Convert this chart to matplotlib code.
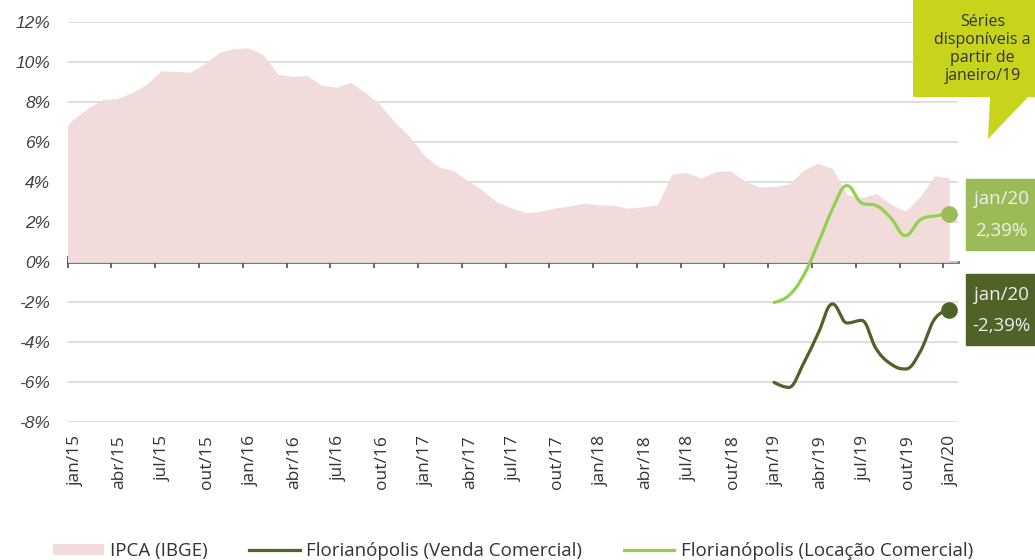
import numpy as np
import matplotlib
matplotlib.use('Agg')
import matplotlib.pyplot as plt
from matplotlib.patches import Rectangle, Polygon, Patch
from matplotlib.lines import Line2D
from matplotlib.transforms import blended_transform_factory

plt.rcParams['font.family'] = ['Open Sans', 'DejaVu Sans']

# IPCA acumulado em 12 meses, de dez/14 a jan/20
ipca = [6.41,
        7.14, 7.70, 8.13, 8.17, 8.47, 8.89, 9.56, 9.53, 9.49, 9.93, 10.48, 10.67,
        10.71, 10.36, 9.39, 9.28, 9.32, 8.84, 8.74, 8.97, 8.48, 7.87, 6.99, 6.29,
        5.35, 4.76, 4.57, 4.08, 3.60, 3.00, 2.71, 2.46, 2.54, 2.70, 2.80, 2.95,
        2.86, 2.84, 2.68, 2.76, 2.86, 4.39, 4.48, 4.19, 4.53, 4.56, 4.05, 3.75,
        3.78, 3.89, 4.58, 4.94, 4.66, 3.37, 3.22, 3.43, 2.89, 2.54, 3.27, 4.31,
        4.19]
ipca_first_month = -1  # dez/14

# Florianópolis, de jan/19 a jan/20
venda = [-6.02, -6.27, -5.10, -3.60, -2.10, -3.05, -2.92, -4.35, -5.10, -5.35, -4.50, -2.85, -2.39]
locacao = [-2.02, -1.68, -0.70, 0.90, 2.65, 3.82, 2.95, 2.82, 2.20, 1.32, 2.10, 2.30, 2.39]
series_first_month = 48  # jan/19

tick_months = list(range(0, 61, 3))
tick_labels = ['jan/15', 'abr/15', 'jul/15', 'out/15',
               'jan/16', 'abr/16', 'jul/16', 'out/16',
               'jan/17', 'abr/17', 'jul/17', 'out/17',
               'jan/18', 'abr/18', 'jul/18', 'out/18',
               'jan/19', 'abr/19', 'jul/19', 'out/19', 'jan/20']
y_ticks = [-8, -6, -4, -2, 0, 2, 4, 6, 8, 10, 12]

legend_labels = ['IPCA (IBGE)', 'Florianópolis (Venda Comercial)',
                 'Florianópolis (Locação Comercial)']

PINK = '#f2dcdb'
DARK = '#4f6228'
LIGHT_LINE = '#92d050'
LIGHT_BOX = '#9bbb59'
CALLOUT = '#c8d41c'
TEXT = '#333333'

X_SHIFT = 0.4  # pontos ficam um pouco à direita do tick do mês


def spline(xs, ys, smoothing=1.5, steps=30):
    """Curva suave que passa pelos pontos, sem criar extremos falsos."""
    xs = np.asarray(xs, float)
    ys = np.asarray(ys, float)
    n = len(xs)
    left = [(xs[i], ys[i]) for i in range(n)]
    right = [(xs[i], ys[i]) for i in range(n)]
    denom = smoothing + 1
    for i in range(1, n - 1):
        x, y = xs[i], ys[i]
        lx, ly = xs[i - 1], ys[i - 1]
        nx, ny = xs[i + 1], ys[i + 1]
        lcx = (smoothing * x + lx) / denom
        lcy = (smoothing * y + ly) / denom
        rcx = (smoothing * x + nx) / denom
        rcy = (smoothing * y + ny) / denom
        if rcx != lcx:
            corr = (rcy - lcy) * (rcx - x) / (rcx - lcx) + y - rcy
            lcy += corr
            rcy += corr
        if lcy > ly and lcy > y:
            lcy = max(ly, y)
            rcy = 2 * y - lcy
        elif lcy < ly and lcy < y:
            lcy = min(ly, y)
            rcy = 2 * y - lcy
        if rcy > ny and rcy > y:
            rcy = max(ny, y)
            lcy = 2 * y - rcy
        elif rcy < ny and rcy < y:
            rcy = min(ny, y)
            lcy = 2 * y - rcy
        left[i] = (lcx, lcy)
        right[i] = (rcx, rcy)

    t = np.linspace(0, 1, steps)[:, None]
    out = []
    for i in range(n - 1):
        p0 = np.array([xs[i], ys[i]])
        p1 = np.array(right[i])
        p2 = np.array(left[i + 1])
        p3 = np.array([xs[i + 1], ys[i + 1]])
        seg = ((1 - t) ** 3) * p0 + 3 * ((1 - t) ** 2) * t * p1 \
            + 3 * (1 - t) * t ** 2 * p2 + t ** 3 * p3
        out.append(seg if i == 0 else seg[1:])
    pts = np.vstack(out)
    return pts[:, 0], pts[:, 1]


W, H = 1035, 560
fig = plt.figure(figsize=(W / 100, H / 100), dpi=100)
ax = fig.add_axes([67.7 / W, 1 - 422 / H, (958 - 67.7) / W, 400 / H])

x_ipca = np.arange(len(ipca)) + ipca_first_month + X_SHIFT
ax.fill_between(x_ipca, ipca, 0, color=PINK, lw=0, zorder=1)

x_series = np.arange(len(venda)) + series_first_month + X_SHIFT
sx, sy = spline(x_series, locacao)
ax.plot(sx, sy, color=LIGHT_LINE, lw=2.3, zorder=3, solid_capstyle='round')
sx, sy = spline(x_series, venda)
ax.plot(sx, sy, color=DARK, lw=2.3, zorder=3, solid_capstyle='round')

ax.plot(x_series[-1], locacao[-1], 'o', ms=11, color=LIGHT_BOX, zorder=4, clip_on=False)
ax.plot(x_series[-1], venda[-1], 'o', ms=11, color=DARK, zorder=4, clip_on=False)

ax.set_xlim(0, 61)
ax.set_ylim(-8, 12)
for s in ax.spines.values():
    s.set_visible(False)

ax.set_yticks(y_ticks, [f'{v}%' for v in y_ticks])
ax.yaxis.grid(True, color='#d9d9d9', lw=1.2)
ax.set_axisbelow(True)
ax.tick_params(axis='y', length=0, pad=12.5, labelsize=12.5, labelcolor='#404040')
for lbl in ax.get_yticklabels():
    lbl.set_fontstyle('italic')
    lbl.set_family(['Liberation Sans', 'DejaVu Sans'])

# rótulos dos meses alinhados aos pontos, ticks no eixo do zero
ax.set_xticks([m + 0.55 for m in tick_months], tick_labels, rotation=90)
ax.tick_params(axis='x', length=0, pad=9.5, labelsize=12.5, labelcolor=TEXT)

zero_frac = (0 - (-8)) / 20
zaxis = ax.secondary_xaxis(zero_frac)
zaxis.set_xticks(tick_months)
zaxis.tick_params(direction='inout', length=8.4, width=1.1, color='#404040',
                  labelbottom=False, labeltop=False)
zaxis.spines['bottom'].set_color('#4d4d4d')
zaxis.spines['bottom'].set_linewidth(1.8)

# caixas com o último valor
trans = blended_transform_factory(fig.transFigure, ax.transData)
for vals, col in [(locacao, LIGHT_BOX), (venda, DARK)]:
    v = vals[-1]
    ax.add_patch(Rectangle((966 / W, v - 1.77), 0.08, 3.54, transform=trans,
                           color=col, clip_on=False, zorder=5))
    ax.text(1001.5 / W, v + 0.75, 'jan/20', transform=trans, ha='center', va='center',
            fontsize=13.5, color='#eeeeee', zorder=6, clip_on=False)
    ax.text(1001.5 / W, v - 0.83, f'{v:.2f}%'.replace('.', ','), transform=trans,
            ha='center', va='center', fontsize=13.5, color='#eeeeee', zorder=6,
            clip_on=False)

# balão de aviso
balloon = [(913, 0), (1040, 0), (1040, 97), (1028, 97), (988, 139), (990, 97), (913, 97)]
fig.add_artist(Polygon([(x / W, 1 - y / H) for x, y in balloon], closed=True,
                       transform=fig.transFigure, facecolor=CALLOUT, edgecolor='none'))
fig.text(982.5 / W, 1 - 49 / H, 'Séries\ndisponíveis a\npartir de\njaneiro/19',
         ha='center', va='center', fontsize=11.5, linespacing=1.17, color=TEXT)

handles = [Patch(facecolor=PINK, edgecolor='none'),
           Line2D([], [], color=DARK, lw=2.3),
           Line2D([], [], color=LIGHT_LINE, lw=2.3)]
leg = fig.legend(handles, legend_labels, loc='center', bbox_to_anchor=(513 / W, 1 - 551 / H),
                 ncol=3, frameon=False, fontsize=13.5, handlelength=2.7, handletextpad=0.35,
                 columnspacing=2.2, handleheight=0.55)
for t in leg.get_texts():
    t.set_color(TEXT)

fig.savefig('out.png', dpi=100)
